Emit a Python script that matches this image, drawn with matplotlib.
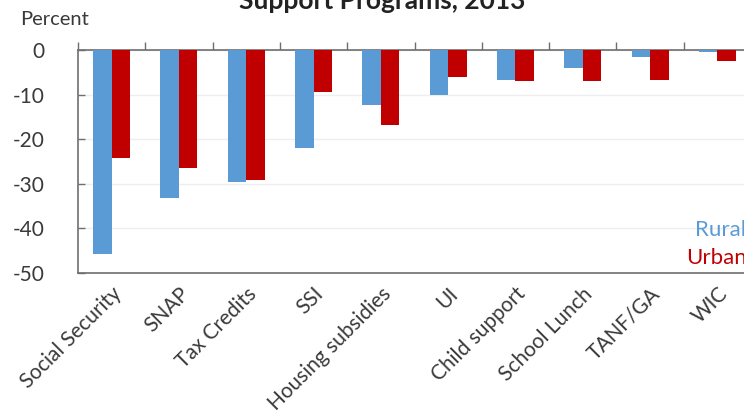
import matplotlib.pyplot as plt
import numpy as np

plt.rcParams["font.family"] = ["Lato", "DejaVu Sans"]

programs = ["Social Security", "SNAP", "Tax Credits", "SSI", "Housing subsidies",
            "UI", "Child support", "School Lunch", "TANF/GA", "WIC"]
rural = [-45.9, -33.3, -29.7, -22.0, -12.4, -10.1, -6.7, -4.1, -1.5, -0.4]
urban = [-24.2, -26.6, -29.2, -9.5, -16.9, -6.0, -7.0, -7.0, -6.7, -2.4]
yticks = [0, -10, -20, -30, -40, -50]

BLUE = "#5B9BD5"
RED = "#C00000"
AXIS = "#6e6e6e"
TEXT = "#3a3a3a"

W, H = 744, 418
fig = plt.figure(figsize=(W / 100, H / 100), dpi=100)
# plot area runs slightly past the right edge of the canvas
ax = fig.add_axes([78 / W, 1 - 272.7 / H, (751 - 78) / W, (272.7 - 50) / H])

x = np.arange(len(programs))
width = 0.275
ax.bar(x - width / 2, rural, width, color=BLUE, zorder=3)
ax.bar(x + width / 2, urban, width, color=RED, zorder=3)

ax.set_xlim(-0.5, len(programs) - 0.5)
ax.set_ylim(-50, 0)
ax.set_yticks(yticks)
ax.set_yticklabels([str(v) for v in yticks], fontsize=15, color=TEXT)
ax.grid(axis="y", color="#eeeeee", linewidth=1, zorder=0)

# category labels under the plot, boundary ticks on the zero line
ax.set_xticks(x)
ax.set_xticklabels(programs, rotation=45, ha="right", rotation_mode="anchor",
                   fontsize=15, color=TEXT)
ax.set_xticks(np.arange(-0.5, len(programs), 1.0), minor=True)
ax.tick_params(axis="x", which="major", length=0, pad=8)
ax.tick_params(axis="x", which="minor", top=True, bottom=False, direction="out",
               length=6, color=AXIS, width=1)
ax.tick_params(axis="y", direction="in", length=5, color=AXIS, width=1, pad=24)

for side in ["left", "bottom", "top"]:
    ax.spines[side].set_color(AXIS)
    ax.spines[side].set_linewidth(1.2)
ax.spines["right"].set_visible(False)

fig.text(20 / W, 1 - 25 / H, "Percent", fontsize=14.5, color=TEXT, va="baseline")
fig.text(382 / W, 1 - 9 / H, "Support Programs, 2013", fontsize=19, fontweight="bold",
         color="#222222", ha="center", va="baseline")

ax.text(695 / W, 1 - 236 / H, "Rural", transform=fig.transFigure, fontsize=16,
        color=BLUE, va="baseline")
ax.text(686 / W, 1 - 264 / H, "Urban", transform=fig.transFigure, fontsize=16,
        color=RED, va="baseline")

fig.savefig("out.png", dpi=100)
